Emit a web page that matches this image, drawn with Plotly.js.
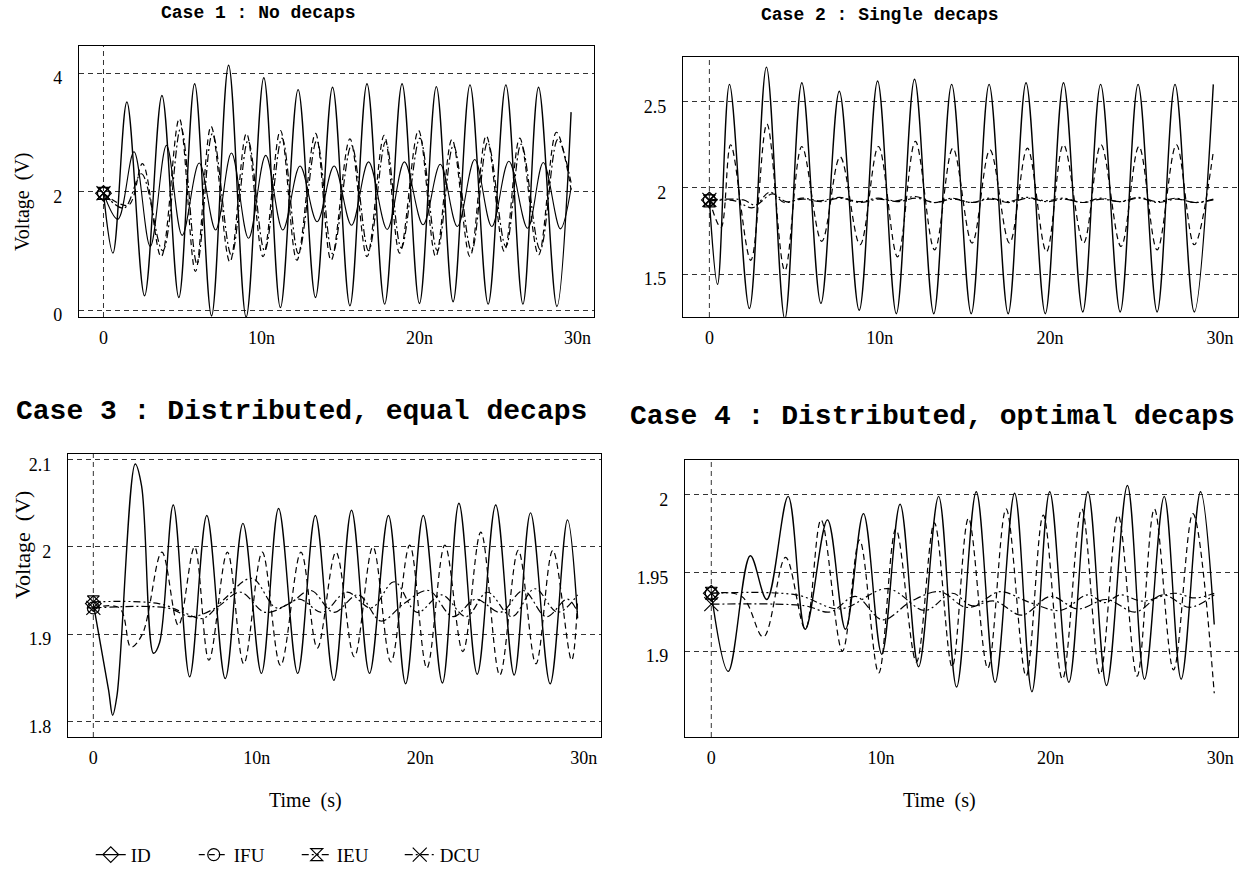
<!DOCTYPE html>
<html>
<head>
<meta charset="utf-8">
<script src="https://cdn.plot.ly/plotly-3.0.1.min.js"></script>
<style>
  html, body { margin: 0; padding: 0; background: #ffffff; }
  #chart { width: 1243px; height: 874px; }
</style>
</head>
<body>
<div id="chart"></div>
<script>
// ---- Case 1 : No decaps (time in ns, voltage in V) ----
const C1_ID_T  = [0, 0.6, 1.48, 2.6, 3.7, 4.77, 5.77, 6.84, 7.92, 9.03, 10.15, 11.2, 12.32, 13.42, 14.5, 15.6, 16.68, 17.8, 18.9, 20.0, 21.07, 22.13, 23.2, 24.35, 25.47, 26.55, 27.54, 28.7, 29.6];
const C1_ID_V  = [1.97, 0.96, 3.51, 0.24, 3.62, 0.21, 3.82, -0.10, 4.13, -0.12, 3.92, 0.04, 3.72, 0.21, 3.76, 0.07, 3.82, 0.10, 3.82, 0.11, 3.77, 0.14, 3.80, 0.10, 3.80, 0.10, 3.76, 0.06, 3.34];
const C1_IFU_T = [0, 1.58, 2.47, 3.65, 4.8, 5.82, 6.81, 8.0, 9.05, 10.1, 11.2, 12.24, 13.42, 14.41, 15.6, 16.68, 17.77, 18.75, 19.94, 21.03, 22.06, 23.2, 24.23, 25.37, 26.35, 27.54, 28.67, 29.6];
const C1_IFU_V = [1.97, 1.77, 2.47, 0.90, 3.23, 0.65, 3.10, 0.81, 2.98, 0.90, 3.03, 0.84, 2.98, 0.84, 2.89, 0.90, 2.95, 0.96, 3.03, 0.90, 2.88, 0.90, 2.94, 0.99, 2.90, 0.93, 3.00, 2.03];
const C1_IEU_T = [0, 0.91, 1.93, 2.96, 3.99, 4.98, 6.06, 7.1, 8.1, 9.18, 10.27, 11.35, 12.44, 13.52, 14.6, 15.7, 16.78, 17.96, 19.05, 20.23, 21.32, 22.4, 23.5, 24.58, 25.66, 26.85, 27.84, 28.92, 29.6];
const C1_IEU_V = [1.97, 1.53, 2.67, 1.07, 2.78, 1.26, 2.48, 1.35, 2.65, 1.21, 2.61, 1.35, 2.43, 1.49, 2.43, 1.43, 2.50, 1.36, 2.50, 1.44, 2.46, 1.41, 2.54, 1.41, 2.51, 1.38, 2.49, 1.37, 2.06];
const C1_DCU_T = [0, 1.3, 2.4, 3.75, 4.9, 5.92, 6.9, 8.1, 9.15, 10.2, 11.3, 12.34, 13.5, 14.5, 15.7, 16.78, 17.86, 18.85, 20.03, 21.13, 22.15, 23.3, 24.32, 25.47, 26.44, 27.64, 28.76, 29.6];
const C1_DCU_V = [1.97, 1.72, 2.30, 1.00, 3.08, 0.78, 2.98, 0.92, 2.86, 1.00, 2.90, 0.95, 2.86, 0.95, 2.78, 1.00, 2.84, 1.05, 2.90, 1.00, 2.78, 1.00, 2.83, 1.07, 2.80, 1.02, 2.88, 2.15];

// ---- Case 2 : Single decaps ----
const C2_ID_T  = [0, 0.48, 1.18, 2.35, 3.35, 4.43, 5.43, 6.55, 7.63, 8.8, 9.88, 10.98, 12.05, 13.18, 14.23, 15.38, 16.43, 17.55, 18.6, 19.73, 20.8, 21.93, 22.98, 24.13, 25.18, 26.3, 27.35, 28.48, 29.6];
const C2_ID_V  = [1.93, 1.44, 2.60, 1.30, 2.70, 1.24, 2.61, 1.33, 2.56, 1.29, 2.62, 1.27, 2.63, 1.27, 2.60, 1.27, 2.60, 1.27, 2.61, 1.27, 2.61, 1.28, 2.60, 1.28, 2.60, 1.28, 2.60, 1.28, 2.60];
const C2_IFU_T = [0, 0.68, 1.25, 2.43, 3.38, 4.43, 5.43, 6.6, 7.68, 8.85, 9.93, 11.05, 12.1, 13.23, 14.3, 15.43, 16.48, 17.63, 18.68, 19.8, 20.8, 21.98, 23.0, 24.18, 25.23, 26.3, 27.43, 28.48, 29.6];
const C2_IFU_V = [1.93, 1.77, 2.25, 1.58, 2.37, 1.52, 2.24, 1.69, 2.18, 1.67, 2.24, 1.60, 2.27, 1.64, 2.23, 1.68, 2.22, 1.68, 2.23, 1.63, 2.25, 1.68, 2.25, 1.66, 2.24, 1.64, 2.25, 1.67, 2.21];
const C2_IEU_T = [0, 1.5, 2.55, 3.55, 4.4, 5.45, 6.5, 7.65, 8.8, 9.9, 11.0, 12.1, 13.2, 14.25, 15.4, 16.45, 17.55, 18.6, 19.75, 20.8, 21.9, 23.0, 24.1, 25.2, 26.3, 27.4, 28.5, 29.6];
const C2_IEU_V = [1.925, 1.925, 1.885, 1.975, 1.915, 1.94, 1.925, 1.945, 1.92, 1.94, 1.925, 1.95, 1.915, 1.94, 1.915, 1.94, 1.92, 1.945, 1.925, 1.94, 1.915, 1.94, 1.92, 1.945, 1.92, 1.94, 1.915, 1.935];
const C2_DCU_T = [0, 2.0, 2.7, 3.7, 4.5, 5.5, 6.6, 7.7, 8.85, 9.95, 11.05, 12.15, 13.25, 14.3, 15.45, 16.5, 17.6, 18.65, 19.8, 20.85, 21.95, 23.05, 24.15, 25.25, 26.35, 27.45, 28.55, 29.6];
const C2_DCU_V = [1.93, 1.93, 1.90, 1.965, 1.92, 1.935, 1.92, 1.94, 1.915, 1.935, 1.92, 1.94, 1.915, 1.935, 1.915, 1.935, 1.915, 1.94, 1.92, 1.935, 1.915, 1.935, 1.92, 1.94, 1.915, 1.935, 1.915, 1.93];

// ---- Case 3 : Distributed, equal decaps ----
const C3_ID_T  = [0, 0.93, 1.18, 1.45, 2.56, 2.95, 3.68, 4.05, 4.89, 5.89, 6.94, 8.07, 9.15, 10.28, 11.33, 12.5, 13.58, 14.71, 15.79, 16.89, 18.05, 19.1, 20.18, 21.35, 22.36, 23.48, 24.61, 25.74, 26.74, 27.94, 29.0, 29.62];
const C3_ID_V  = [1.935, 1.836, 1.807, 1.83, 2.095, 2.07, 1.878, 1.89, 2.048, 1.851, 2.036, 1.849, 2.027, 1.855, 2.044, 1.855, 2.036, 1.847, 2.042, 1.855, 2.036, 1.843, 2.036, 1.844, 2.05, 1.854, 2.048, 1.853, 2.039, 1.843, 2.031, 1.918];
const C3_IFU_T = [0, 1.6, 2.3, 3.0, 4.19, 5.2, 6.19, 7.07, 8.2, 9.2, 10.33, 11.45, 12.7, 13.7, 14.84, 15.96, 17.1, 18.2, 19.35, 20.4, 21.5, 22.6, 23.7, 24.86, 25.99, 27.07, 28.1, 29.25, 29.62];
const C3_IFU_V = [1.93, 1.93, 1.885, 1.90, 1.994, 1.91, 2.0, 1.87, 1.994, 1.866, 1.994, 1.864, 1.994, 1.884, 1.994, 1.874, 2.0, 1.868, 2.002, 1.861, 2.002, 1.88, 2.017, 1.853, 1.996, 1.866, 1.996, 1.87, 1.94];
const C3_IEU_T = [0, 4.0, 5.5, 6.7, 8.0, 9.7, 11.2, 12.6, 14.0, 15.5, 17.0, 18.4, 19.8, 21.3, 22.8, 24.1, 25.6, 27.0, 28.4, 29.62];
const C3_IEU_V = [1.937, 1.935, 1.925, 1.918, 1.94, 1.964, 1.93, 1.94, 1.925, 1.948, 1.93, 1.96, 1.925, 1.945, 1.92, 1.948, 1.92, 1.952, 1.925, 1.945];
const C3_DCU_T = [0, 4.5, 6.0, 7.5, 9.0, 10.5, 12.0, 13.3, 14.7, 16.2, 17.6, 19.0, 20.5, 22.0, 23.4, 24.9, 26.3, 27.7, 29.0, 29.62];
const C3_DCU_V = [1.93, 1.93, 1.92, 1.93, 1.948, 1.925, 1.935, 1.95, 1.925, 1.945, 1.915, 1.935, 1.95, 1.92, 1.94, 1.925, 1.95, 1.92, 1.94, 1.925];

// ---- Case 4 : Distributed, optimal decaps ----
const C4_ID_T  = [0, 1.0, 2.3, 3.27, 4.53, 5.54, 6.85, 7.91, 8.97, 10.05, 11.13, 12.22, 13.4, 14.46, 15.62, 16.73, 17.88, 18.9, 19.95, 21.08, 22.2, 23.3, 24.53, 25.54, 26.7, 27.7, 28.84, 29.65];
const C4_ID_V  = [1.937, 1.887, 1.961, 1.933, 1.999, 1.914, 1.984, 1.914, 1.988, 1.898, 1.994, 1.890, 1.999, 1.877, 2.002, 1.880, 2.001, 1.874, 2.002, 1.880, 2.002, 1.878, 2.006, 1.882, 1.999, 1.882, 2.002, 1.917];
const C4_IFU_T = [0, 1.8, 3.07, 4.38, 5.54, 6.47, 7.73, 8.74, 9.87, 10.88, 12.09, 13.15, 14.2, 15.16, 16.3, 17.38, 18.56, 19.57, 20.7, 21.84, 22.92, 23.98, 25.1, 26.12, 27.25, 28.39, 29.65];
const C4_IFU_V = [1.937, 1.935, 1.909, 1.960, 1.914, 1.984, 1.900, 1.971, 1.886, 1.978, 1.893, 1.982, 1.890, 1.985, 1.889, 1.991, 1.884, 1.987, 1.882, 1.991, 1.885, 1.987, 1.884, 1.991, 1.888, 1.988, 1.873];
const C4_IEU_T = [0, 5.0, 7.6, 10.4, 12.6, 14.2, 15.4, 17.0, 18.8, 20.6, 22.2, 23.2, 24.1, 25.4, 27.3, 28.5, 29.65];
const C4_IEU_V = [1.937, 1.936, 1.927, 1.940, 1.926, 1.937, 1.929, 1.938, 1.931, 1.926, 1.936, 1.931, 1.936, 1.932, 1.937, 1.934, 1.937];
const C4_DCU_T = [0, 5.5, 7.0, 8.5, 10.1, 11.8, 13.5, 15.0, 16.7, 18.3, 20.0, 21.6, 23.3, 25.0, 26.6, 28.2, 29.65];
const C4_DCU_V = [1.930, 1.929, 1.925, 1.935, 1.920, 1.932, 1.938, 1.928, 1.932, 1.923, 1.935, 1.927, 1.933, 1.925, 1.936, 1.928, 1.936];

// ---- Labels and ticks ----
const CASE_TITLES = ['Case 1 : No decaps', 'Case 2 : Single decaps',
                     'Case 3 : Distributed, equal decaps', 'Case 4 : Distributed, optimal decaps'];
const SERIES_NAMES = ['ID', 'IFU', 'IEU', 'DCU'];
const TIME_TICKS = [0, 10, 20, 30];
const TIME_TICK_TEXT = ['0', '10n', '20n', '30n'];
const VOLT_TICKS = [[0, 2, 4], [1.5, 2, 2.5], [1.8, 1.9, 2, 2.1], [1.9, 1.95, 2]];
const VOLT_TICK_TEXT = [['0', '2', '4'], ['1.5', '2', '2.5'], ['1.8', '1.9', '2', '2.1'], ['1.9', '1.95', '2']];
const Y_TITLE = 'Voltage  (V)';
const X_TITLE = 'Time  (s)';

const DATA = [
  { ID: [C1_ID_T, C1_ID_V], IFU: [C1_IFU_T, C1_IFU_V], IEU: [C1_IEU_T, C1_IEU_V], DCU: [C1_DCU_T, C1_DCU_V] },
  { ID: [C2_ID_T, C2_ID_V], IFU: [C2_IFU_T, C2_IFU_V], IEU: [C2_IEU_T, C2_IEU_V], DCU: [C2_DCU_T, C2_DCU_V] },
  { ID: [C3_ID_T, C3_ID_V], IFU: [C3_IFU_T, C3_IFU_V], IEU: [C3_IEU_T, C3_IEU_V], DCU: [C3_DCU_T, C3_DCU_V] },
  { ID: [C4_ID_T, C4_ID_V], IFU: [C4_IFU_T, C4_IFU_V], IEU: [C4_IEU_T, C4_IEU_V], DCU: [C4_DCU_T, C4_DCU_V] }
];

// ---- Page geometry (pixels) ----
const W = 1243, H = 874;
const FRAMES = [
  { l: 79,  r: 594,  t: 46,  b: 317, yr: [-0.118, 4.456] },
  { l: 683, r: 1238, t: 57,  b: 317, yr: [1.251, 2.759] },
  { l: 68,  r: 601,  t: 454, b: 737, yr: [1.782, 2.1065] },
  { l: 685, r: 1238, t: 460, b: 737, yr: [1.845, 2.0223] }
];
const X_RANGE = [-1.55, 31.05];
// panel title centre (x, y) and size
const TITLE_POS = [[258, 13, 18], [880, 15, 18], [301, 411, 28], [932, 416, 28]];
const Y_TITLE_POS = [[22, 202, 20], [22, 545, 22]];
const X_TITLE_POS = [[305, 800, 20], [940, 800, 20]];

const STYLE = {
  ID:  { dash: 'solid', width: 1.4, symbol: 'diamond-open', size: 12 },
  IFU: { dash: '6px,4px', width: 1.2, symbol: 'circle-open', size: 12 },
  IEU: { dash: '7px,3px,2px,3px,2px,3px', width: 1.2, symbol: 'hourglass-open', size: 12 },
  DCU: { dash: '8px,3px,2px,3px', width: 1.2, symbol: 'x-thin', size: 14 }
};
// the mid-amplitude node of case 1 plots as an unbroken trace
const OVERRIDE = { '0:IEU': { dash: 'solid', width: 1.1 } };

const SERIF = 'Liberation Serif, Times New Roman, serif';
const MONO = 'Liberation Mono, Courier New, monospace';

const traces = [];
const layout = {
  width: W, height: H,
  margin: { l: 0, r: 0, t: 0, b: 0 },
  paper_bgcolor: '#ffffff', plot_bgcolor: '#ffffff',
  showlegend: true,
  legend: {
    orientation: 'h', x: 0.073, y: 0.022, xanchor: 'left', yanchor: 'middle',
    font: { family: SERIF, size: 19, color: '#000' },
    bgcolor: 'rgba(0,0,0,0)', itemwidth: 30, traceorder: 'normal',
    entrywidth: 58, entrywidthmode: 'pixels'
  },
  annotations: [],
  shapes: []
};

DATA.forEach((c, ci) => {
  const n = ci === 0 ? '' : String(ci + 1);
  const xa = 'x' + n, ya = 'y' + n;
  const f = FRAMES[ci];

  // lines, drawn with ID on top
  SERIES_NAMES.slice().reverse().forEach(name => {
    const st = Object.assign({}, STYLE[name], OVERRIDE[ci + ':' + name] || {});
    const [t, v] = c[name];
    traces.push({
      type: 'scatter', mode: 'lines', x: t, y: v, xaxis: xa, yaxis: ya,
      line: { color: '#000', width: st.width, dash: st.dash, shape: 'spline', smoothing: 1 },
      showlegend: false, hoverinfo: 'skip', name: name
    });
  });
  // start-point symbols (case 1 ones also feed the legend)
  SERIES_NAMES.forEach((name, si) => {
    const st = STYLE[name];
    const [t, v] = c[name];
    traces.push({
      type: 'scatter', mode: 'lines+markers', x: [t[0]], y: [v[0]], xaxis: xa, yaxis: ya,
      name: name, legendrank: si + 1, showlegend: ci === 0,
      line: { color: '#000', width: st.width, dash: st.dash },
      marker: { symbol: st.symbol, size: st.size, color: '#000', line: { color: '#000', width: 1.2 } },
      hoverinfo: 'skip'
    });
  });

  layout['xaxis' + n] = {
    domain: [f.l / W, f.r / W], range: X_RANGE, anchor: ya,
    tickvals: TIME_TICKS, ticktext: TIME_TICK_TEXT, ticks: '', ticklabelstandoff: 4,
    tickfont: { family: SERIF, size: 18, color: '#000' },
    showline: true, mirror: true, linecolor: '#000', linewidth: 1.2,
    showgrid: false, zeroline: false, fixedrange: true
  };
  layout['yaxis' + n] = {
    domain: [1 - f.b / H, 1 - f.t / H], range: f.yr, anchor: xa,
    tickvals: VOLT_TICKS[ci], ticktext: VOLT_TICK_TEXT[ci], ticks: '',
    ticklabelstandoff: 12, ticklabelshift: 5,
    tickfont: { family: SERIF, size: 18, color: '#000' },
    showline: true, mirror: true, linecolor: '#000', linewidth: 1.2,
    showgrid: true, griddash: '5px,4px', gridcolor: '#333', gridwidth: 1,
    zeroline: false, fixedrange: true
  };
  // dashed reference at the start time
  layout.shapes.push({
    type: 'line', xref: xa, yref: ya + ' domain', x0: c.ID[0][0], x1: c.ID[0][0], y0: 0, y1: 1,
    line: { color: '#333', width: 1, dash: '5px,4px' }, layer: 'below'
  });
  // panel title
  const [tx, ty, ts] = TITLE_POS[ci];
  layout.annotations.push({
    xref: 'paper', yref: 'paper', x: tx / W, y: 1 - ty / H,
    xanchor: 'center', yanchor: 'middle', showarrow: false,
    text: '<b>' + CASE_TITLES[ci] + '</b>',
    font: { family: MONO, size: ts, color: '#000' }
  });
});

// axis titles
Y_TITLE_POS.forEach(([x, y, s]) => layout.annotations.push({
  xref: 'paper', yref: 'paper', x: x / W, y: 1 - y / H, xanchor: 'center', yanchor: 'middle',
  showarrow: false, textangle: -90, text: Y_TITLE, font: { family: SERIF, size: s, color: '#000' }
}));
X_TITLE_POS.forEach(([x, y, s]) => layout.annotations.push({
  xref: 'paper', yref: 'paper', x: x / W, y: 1 - y / H, xanchor: 'center', yanchor: 'middle',
  showarrow: false, text: X_TITLE, font: { family: SERIF, size: s, color: '#000' }
}));

Plotly.newPlot('chart', traces, layout, { staticPlot: true, displayModeBar: false });
</script>
</body>
</html>
